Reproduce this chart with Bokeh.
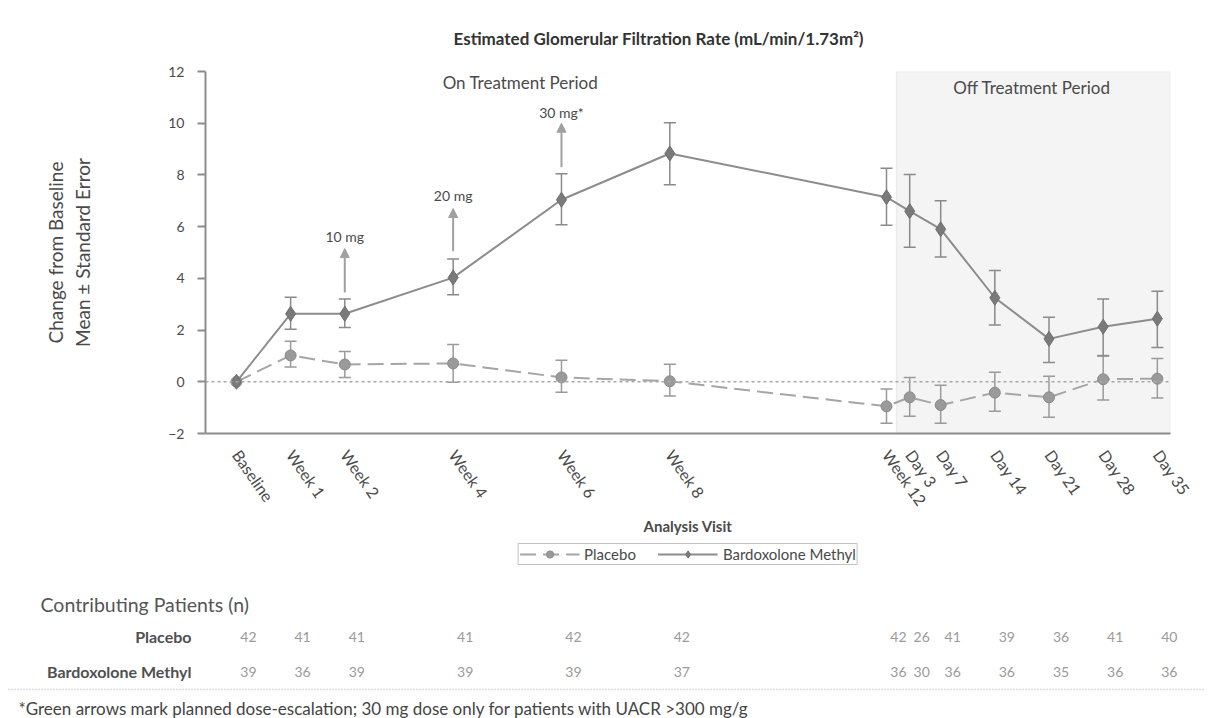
import math
from bokeh.plotting import figure
from bokeh.models import (Range1d, FixedTicker, ColumnDataSource, Whisker, TeeHead,
                          BoxAnnotation, Span, Arrow, NormalHead, Label,
                          Legend, LegendItem)
from bokeh.embed import file_html
from bokeh.resources import INLINE
from bokeh.core.properties import value

# ---------------- data ----------------
visits = ["Baseline", "Week 1", "Week 2", "Week 4", "Week 6", "Week 8", "Week 12",
          "Day 3", "Day 7", "Day 14", "Day 21", "Day 28", "Day 35"]
visit_day = [0, 7, 14, 28, 42, 56, 84, 87, 91, 98, 105, 112, 119]

bard_mean = [0, 2.63, 2.63, 4.03, 7.04, 8.83, 7.14, 6.60, 5.90, 3.25, 1.66, 2.13, 2.44]
bard_low = [0, 2.03, 2.10, 3.37, 6.07, 7.62, 6.05, 5.20, 4.83, 2.20, 0.75, 1.00, 1.33]
bard_up = [0, 3.27, 3.20, 4.75, 8.05, 10.02, 8.26, 8.02, 7.00, 4.30, 2.50, 3.20, 3.50]

plac_mean = [0, 1.02, 0.67, 0.71, 0.17, 0.02, -0.95, -0.60, -0.90, -0.42, -0.60, 0.10, 0.12]
plac_low = [0, 0.57, 0.17, -0.02, -0.40, -0.55, -1.60, -1.33, -1.60, -1.14, -1.37, -0.70, -0.63]
plac_up = [0, 1.57, 1.17, 1.44, 0.83, 0.68, -0.28, 0.17, -0.13, 0.37, 0.21, 1.02, 0.90]

n_placebo = [42, 41, 41, 41, 42, 42, 42, 26, 41, 39, 36, 41, 40]
n_bard = [39, 36, 39, 39, 39, 37, 36, 30, 36, 36, 35, 36, 36]

dose_day = [14, 28, 42]
dose_label = ["10 mg", "20 mg", "30 mg*"]
dose_arrow_from = [3.45, 5.05, 8.30]
dose_arrow_to = [5.15, 6.70, 10.00]
dose_label_y = [5.60, 7.20, 10.40]

off_treatment_start = 85.3

FONT = "Lato"
TXT = "#4a4a4a"
BARD_LINE, BARD_MARK, BARD_EDGE = "#8c8c8c", "#7a7a7a", "#6e6e6e"
PLAC_LINE, PLAC_MARK, PLAC_EDGE = "#a5a5a5", "#9a9a9a", "#8a8a8a"

# ---------------- geometry (pixels) ----------------
W, H = 1211, 718
FL, FR, FT = 205, 41, 71
FW, FH = W - FL - FR, 362
B1 = 104                    # space under the chart frame for tick labels + axis title
LEG_H = 34
X0, X1 = -4.0, 120.7
Y0, Y1 = -2, 12

# ================= main chart =================
p = figure(frame_width=FW, frame_height=FH,
           x_range=Range1d(X0, X1), y_range=Range1d(Y0, Y1),
           output_backend="svg", toolbar_location=None,
           min_border_left=FL, min_border_right=FR, min_border_top=FT,
           min_border_bottom=B1)
p.outline_line_color = None
p.grid.visible = False

p.title.text = "Estimated Glomerular Filtration Rate (mL/min/1.73m\u00b2)"
p.title.align = "left"
p.title.offset = 248
p.title.standoff = 46
p.title.text_font = FONT
p.title.text_font_size = "17px"
p.title.text_font_style = "bold"
p.title.text_color = "#333333"

p.add_layout(BoxAnnotation(left=off_treatment_start, bottom=Y0, top=Y1, fill_color="#f4f4f4",
                           fill_alpha=1.0, line_color="#cdcdcd", line_width=1.5,
                           level="underlay"))
p.add_layout(Span(location=0, dimension="width", line_color="#a8a8a8", line_width=1.5,
                  line_dash="3 3"))

src_b = ColumnDataSource(dict(x=visit_day, y=bard_mean))
src_p = ColumnDataSource(dict(x=visit_day, y=plac_mean))
err_b = ColumnDataSource(dict(x=visit_day[1:], lo=bard_low[1:], up=bard_up[1:]))
err_p = ColumnDataSource(dict(x=visit_day[1:], lo=plac_low[1:], up=plac_up[1:]))

for s, col in ((err_p, "#9a9a9a"), (err_b, "#8a8a8a")):
    p.add_layout(Whisker(source=s, base="x", lower="lo", upper="up", line_color=col,
                         line_width=1.5,
                         upper_head=TeeHead(size=12, line_color=col, line_width=1.5),
                         lower_head=TeeHead(size=12, line_color=col, line_width=1.5)))


def draw_series(fig):
    a = fig.line("x", "y", source=src_p, line_color=PLAC_LINE, line_width=2, line_dash="16 7")
    b = fig.line("x", "y", source=src_b, line_color=BARD_LINE, line_width=2)
    c = fig.scatter("x", "y", source=src_p, marker="circle", size=11,
                    fill_color=PLAC_MARK, line_color=PLAC_EDGE)
    d = fig.scatter("x", "y", source=src_b, marker="diamond", size=15,
                    fill_color=BARD_MARK, line_color=BARD_EDGE)
    return a, b, c, d


draw_series(p)

arr = ColumnDataSource(dict(x=dose_day, y0=dose_arrow_from, y1=dose_arrow_to))
p.add_layout(Arrow(source=arr, x_start="x", y_start="y0", x_end="x", y_end="y1",
                   line_color="#a0a0a0", line_width=2,
                   end=NormalHead(size=9, fill_color="#a0a0a0", line_color="#a0a0a0")))
lab = ColumnDataSource(dict(x=dose_day, y=dose_label_y, t=dose_label))
p.text("x", "y", text="t", source=lab, text_align="center", text_baseline="middle",
       text_font=value(FONT), text_font_size="14px", text_color=TXT)

p.add_layout(Label(x=36.7, y=11.58, text="On Treatment Period", text_align="center",
                   text_baseline="middle", text_font=FONT, text_font_size="17px",
                   text_color=TXT))
p.add_layout(Label(x=102.8, y=11.39, text="Off Treatment Period", text_align="center",
                   text_baseline="middle", text_font=FONT, text_font_size="17px",
                   text_color=TXT))

for ax in (p.xaxis[0], p.yaxis[0]):
    ax.axis_line_color = "#8c8c8c"
    ax.axis_line_width = 2
    ax.major_label_text_font = FONT
    ax.major_label_text_color = TXT
    ax.axis_label_text_font = FONT
    ax.axis_label_text_color = TXT
    ax.axis_label_text_font_style = "normal"
    ax.minor_tick_line_color = None

p.yaxis.ticker = FixedTicker(ticks=list(range(-2, 13, 2)))
p.yaxis.major_tick_out = 8
p.yaxis.major_tick_in = 0
p.yaxis.major_tick_line_color = "#8c8c8c"
p.yaxis.major_tick_line_width = 2
p.yaxis.major_label_text_font_size = "14px"
p.yaxis.major_label_standoff = 13
p.yaxis.axis_label = "Change from Baseline\nMean \u00b1 Standard Error"
p.yaxis.axis_label_text_font_size = "19px"
p.yaxis.axis_label_standoff = 71

p.xaxis.ticker = FixedTicker(ticks=visit_day)
p.xaxis.major_label_overrides = {d: v for d, v in zip(visit_day, visits)}
p.xaxis.major_tick_line_color = None
p.xaxis.major_label_orientation = -0.96
p.xaxis.major_label_text_font_size = "16px"
p.xaxis.major_label_standoff = 12
p.xaxis.axis_label = "Analysis Visit"
p.xaxis.axis_label_text_font_size = "15px"
p.xaxis.axis_label_text_font_style = "bold"
p.xaxis.axis_label_standoff = 0

# ================= legend strip =================
# the series are drawn again here outside the visible ranges, only so that the
# legend can show their line and marker styles
lg = figure(frame_width=FW, frame_height=LEG_H, x_range=Range1d(-30, -20),
            y_range=Range1d(-30, -20), x_axis_type=None, y_axis_type=None,
            output_backend="svg", toolbar_location=None,
            min_border_left=FL, min_border_right=FR, min_border_top=0, min_border_bottom=0)
lg.outline_line_color = None
lg.grid.visible = False
r_pl, r_bl, r_pm, r_bm = draw_series(lg)
legend = Legend(items=[LegendItem(label="Placebo", renderers=[r_pl, r_pm]),
                       LegendItem(label="Bardoxolone Methyl", renderers=[r_bl, r_bm])],
                orientation="horizontal", location="top_center", border_line_color="#888888",
                border_line_width=1.5, label_text_font=FONT, label_text_font_size="15px",
                label_text_color=TXT, glyph_width=60, glyph_height=18, label_height=14,
                spacing=22, padding=1, margin=5, label_standoff=5,
                background_fill_alpha=1.0)
lg.add_layout(legend)

# ================= table of contributing patients =================
sx = FW / (X1 - X0)
T0 = X0 - FL / sx
T1 = X1 + FR / sx
TOP3 = FT + FH + B1 + LEG_H      # canvas y where the table strip starts
H3 = H - TOP3


def tx(px):          # canvas pixel x -> table data x
    return T0 + px / sx


def ty(py):          # canvas pixel y -> table strip y
    return py - TOP3


t = figure(frame_width=W, frame_height=H3, x_range=Range1d(T0, T1), y_range=Range1d(H3, 0),
           x_axis_type=None, y_axis_type=None, output_backend="svg",
           toolbar_location=None, min_border=0)
t.outline_line_color = None
t.grid.visible = False

rows = ["Placebo", "Bardoxolone Methyl"]
row_y = [ty(635), ty(670)]
for yy, counts in zip(row_y, (n_placebo, n_bard)):
    t.text(x=visit_day, y=[yy] * len(visit_day), text=[str(c) for c in counts],
           x_offset=12, text_align="center", text_baseline="middle",
           text_font=value(FONT), text_font_size="14px", text_color="#9a9a9a")
t.text(x=[tx(191)] * 2, y=row_y, text=rows, text_align="right", text_baseline="middle",
       text_font=value(FONT), text_font_size="16px", text_font_style="bold",
       text_color="#505050")
t.text(x=[tx(40)], y=[ty(603)], text=["Contributing Patients (n)"], text_align="left",
       text_baseline="middle", text_font=value(FONT), text_font_size="19.5px",
       text_color="#555555")
t.line(x=[tx(8), tx(1205)], y=[ty(688)] * 2, line_color="#bbbbbb", line_width=1.5,
       line_dash="1 2")
t.text(x=[tx(18)], y=[ty(707)],
       text=["*Green arrows mark planned dose-escalation; 30 mg dose only for patients with UACR >300 mg/g"],
       text_align="left", text_baseline="middle", text_font=value(FONT),
       text_font_size="17px", text_color="#444444")

open("out.html", "w").write(file_html([p, lg, t], INLINE))
